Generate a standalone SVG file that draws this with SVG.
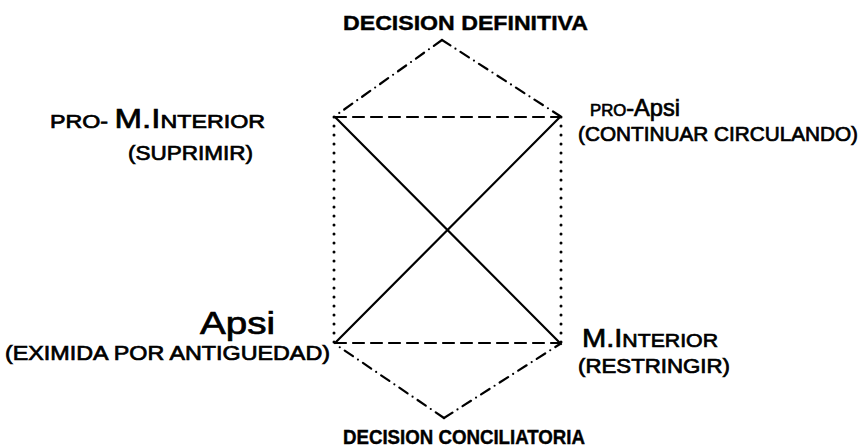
<svg xmlns="http://www.w3.org/2000/svg" width="865" height="448" viewBox="0 0 865 448">
<style>
.t{font-family:"Liberation Sans",Arial,sans-serif;fill:#000;stroke:#000;stroke-width:0.7;}
.b{font-weight:bold;stroke-width:0.4;}
.ln{stroke:#000;stroke-width:2.2;fill:none;stroke-linecap:round;}
.dash{stroke-dasharray:11 7;}
.dot{stroke-dasharray:0 9;stroke-width:3;}
.dd{stroke-dasharray:10 6 0 6;}
</style>
<rect width="865" height="448" fill="#fff"/>
<g id="connectors">
<line class="ln dash" x1="335" y1="117" x2="560" y2="117"/>
<line class="ln dash" x1="335" y1="343" x2="560" y2="343"/>
<line class="ln dot" x1="334" y1="117" x2="334" y2="343"/>
<line class="ln dot" x1="561" y1="117" x2="561" y2="343"/>
<line class="ln" x1="335" y1="117" x2="561" y2="344"/>
<line class="ln" x1="560" y1="117" x2="335" y2="343"/>
<line class="ln dd" x1="442" y1="40" x2="335" y2="116"/>
<line class="ln dd" x1="442" y1="40" x2="560" y2="116"/>
<line class="ln dd" x1="444" y1="418" x2="335" y2="344"/>
<line class="ln dd" x1="444" y1="418" x2="560" y2="344"/>
</g>
<g id="decision-definitiva">
<text class="t b" x="343" y="30" font-size="20" textLength="245" lengthAdjust="spacingAndGlyphs">DECISION DEFINITIVA</text>
</g>
<g id="pro-m-interior">
<text class="t" x="50" y="128" font-size="19" textLength="215" lengthAdjust="spacingAndGlyphs">PRO- <tspan font-size="27">M.I</tspan>NTERIOR</text>
<text class="t" x="128" y="160" font-size="20" textLength="125" lengthAdjust="spacingAndGlyphs">(SUPRIMIR)</text>
</g>
<g id="pro-apsi">
<text class="t" x="590" y="116" font-size="24" textLength="90" lengthAdjust="spacingAndGlyphs"><tspan font-size="17">PRO</tspan>-Apsi</text>
<text class="t" x="578" y="141" font-size="20" textLength="280" lengthAdjust="spacingAndGlyphs">(CONTINUAR CIRCULANDO)</text>
</g>
<g id="apsi">
<text class="t" x="200" y="334" font-size="31" textLength="75" lengthAdjust="spacingAndGlyphs">Apsi</text>
<text class="t" x="5" y="360" font-size="20" textLength="325" lengthAdjust="spacingAndGlyphs">(EXIMIDA POR ANTIGUEDAD)</text>
</g>
<g id="m-interior">
<text class="t" x="582" y="347" font-size="19" textLength="136" lengthAdjust="spacingAndGlyphs"><tspan font-size="26">M.I</tspan>NTERIOR</text>
<text class="t" x="578" y="373" font-size="20" textLength="152" lengthAdjust="spacingAndGlyphs">(RESTRINGIR)</text>
</g>
<g id="decision-conciliatoria">
<text class="t b" x="343" y="444" font-size="20" textLength="242" lengthAdjust="spacingAndGlyphs">DECISION CONCILIATORIA</text>
</g>
</svg>
